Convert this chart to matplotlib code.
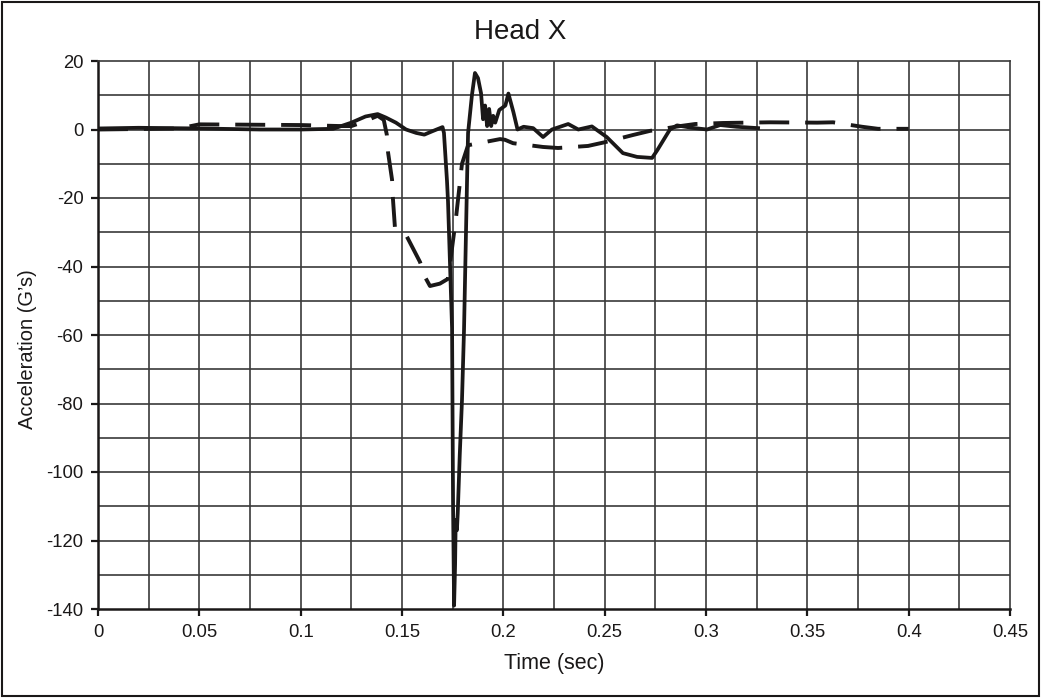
import matplotlib
matplotlib.use("Agg")
import matplotlib.pyplot as plt
from matplotlib.patches import Rectangle

plt.rcParams['font.family'] = ['Liberation Sans', 'DejaVu Sans']
plt.rcParams['axes.unicode_minus'] = False

title = "Head X"
xlabel = "Time (sec)"
ylabel = "Acceleration (G\u2019s)"

solid_t = [0.0, 0.02, 0.05, 0.08, 0.1, 0.116, 0.125, 0.132, 0.138, 0.142, 0.147, 0.152,
           0.157, 0.161, 0.165, 0.170, 0.1707, 0.1722, 0.1727, 0.1747, 0.1752, 0.1757,
           0.1762, 0.1765, 0.1771, 0.1775, 0.1785, 0.1796, 0.1806, 0.1821, 0.1826, 0.1845,
           0.186, 0.1875, 0.189, 0.190, 0.191, 0.192, 0.193, 0.194, 0.195, 0.196, 0.198,
           0.201, 0.2025, 0.205, 0.207, 0.210, 0.2147, 0.2196, 0.224, 0.228, 0.232, 0.237,
           0.2437, 0.251, 0.259, 0.266, 0.2734, 0.276, 0.2822, 0.2857, 0.293, 0.3005,
           0.307, 0.315, 0.3257]
solid_g = [0.3, 0.5, 0.3, 0.0, 0.0, 0.2, 2.0, 3.8, 4.5, 3.5, 2.0, 0.0,
           -1.0, -1.5, -0.5, 0.7, -1.0, -15.0, -21.0, -58.0, -110.0, -139.0,
           -127.0, -114.0, -117.0, -112.0, -95.0, -79.0, -58.5, -14.7, -1.0, 10.0,
           16.5, 15.0, 10.6, 3.0, 7.0, 1.0, 6.0, 1.0, 4.0, 2.0, 5.7,
           7.0, 10.5, 5.0, 0.0, 0.8, 0.4, -2.2, 0.0, 0.8, 1.6, 0.0,
           0.9, -2.2, -6.9, -8.0, -8.3, -6.0, 0.0, 1.2, 0.5, 0.0,
           1.3, 0.8, 0.4]

dash_t = [0.0, 0.04, 0.05, 0.1, 0.12, 0.125, 0.13, 0.138, 0.141, 0.1425, 0.1431, 0.1451,
          0.1455, 0.1465, 0.152, 0.1589, 0.1613, 0.1638, 0.1687, 0.1727, 0.1766, 0.1796,
          0.1826, 0.1984, 0.2008, 0.2048, 0.2196, 0.227, 0.2418, 0.2502, 0.264, 0.2724,
          0.2872, 0.2946, 0.3084, 0.3316, 0.3548, 0.3627, 0.377, 0.3849, 0.40]
dash_g = [0.0, 0.3, 1.5, 1.3, 1.0, 1.0, 2.0, 4.0, 2.8, -1.5, -6.6, -14.7,
          -20.0, -28.5, -30.8, -38.7, -43.0, -45.7, -45.0, -43.6, -26.0, -10.0,
          -4.6, -2.8, -3.0, -4.0, -5.1, -5.4, -4.8, -3.7, -1.6, -0.4,
          1.0, 1.6, 1.9, 2.1, 2.0, 2.1, 0.8, 0.2, 0.2]

xticks = [0, 0.05, 0.1, 0.15, 0.2, 0.25, 0.3, 0.35, 0.4, 0.45]
xticklabels = ["0", "0.05", "0.1", "0.15", "0.2", "0.25", "0.3", "0.35", "0.4", "0.45"]
yticks = [-140, -120, -100, -80, -60, -40, -20, 0, 20]

W, H = 1041, 698
fig = plt.figure(figsize=(W / 100, H / 100), dpi=100)
ax = fig.add_axes([98 / W, 1 - 609 / H, 912 / W, 548 / H])

ax.set_xlim(0, 0.45)
ax.set_ylim(-140, 20)

minor_x = [i * 0.025 for i in range(1, 18)]
minor_y = list(range(-130, 20, 10))
for x in minor_x:
    ax.axvline(x, color='#3a3a3a', lw=1.2, zorder=1)
for y in minor_y:
    ax.axhline(y, color='#3a3a3a', lw=1.2, zorder=1)

ax.plot(dash_t, dash_g, color='#1a1818', lw=2.8, dashes=(7.7, 4.1),
        dash_capstyle='butt', zorder=3)
ax.plot(solid_t, solid_g, color='#1a1818', lw=2.7, zorder=4, solid_joinstyle='round')

ax.set_xticks(xticks)
ax.set_xticklabels(xticklabels)
ax.set_yticks(yticks)
ax.tick_params(direction='out', length=5, width=1.6, labelsize=13.3, colors='#1a1818', pad=5.5)
for s in ['top', 'right']:
    ax.spines[s].set_color('#3a3a3a')
    ax.spines[s].set_linewidth(1.2)
for s in ['left', 'bottom']:
    ax.spines[s].set_color('#1a1818')
    ax.spines[s].set_linewidth(1.8)

fig.text(0.5, 1 - 32 / H, title, fontsize=20, ha='center', va='center', color='#1a1818')
ax.set_xlabel(xlabel, fontsize=15.5, color='#1a1818', va='center')
ax.xaxis.set_label_coords(0.5, (609 - 663) / -548 * -1)
ax.set_ylabel(ylabel, fontsize=14.5, color='#1a1818', va='center', ha='center')
ax.yaxis.set_label_coords((28 - 98) / 912, (609 - 349) / 548)

fig.patches.append(Rectangle((0.002, 0.003), 0.996, 0.994, transform=fig.transFigure,
                             fill=False, edgecolor='#1a1818', lw=1.5))

fig.savefig("out.png", dpi=100)
